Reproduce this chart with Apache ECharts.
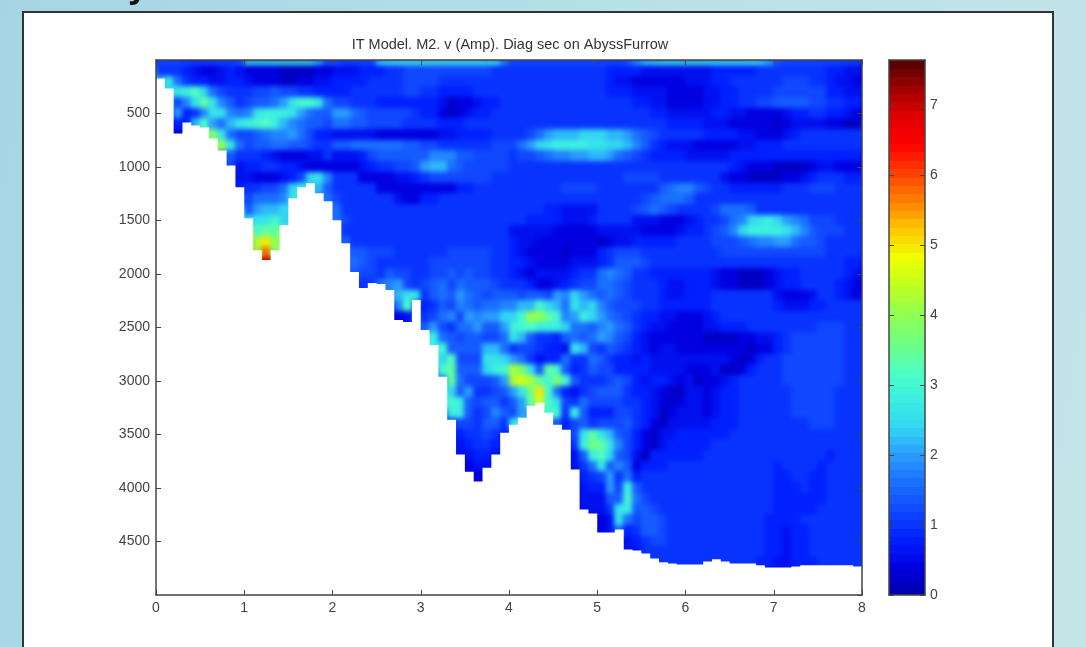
<!DOCTYPE html>
<html><head><meta charset="utf-8">
<style>html,body{margin:0;padding:0;width:1086px;height:647px;overflow:hidden;background:linear-gradient(100deg,#a5d5e4 0%,#b6e0e8 50%,#c4e5e8 100%)}
#panel{position:absolute;left:22px;top:11px;width:1028px;height:700px;background:#fff;border:2px solid #333}
#c{position:absolute;left:0;top:0;width:1086px;height:647px}
#c canvas[data-zr-dom-id="zr_0"]{filter:blur(2.4px);clip-path:inset(60px 224px 52px 156px)}</style>
<script src="https://cdn.jsdelivr.net/npm/echarts@6/dist/echarts.min.js"></script>
</head><body><div id="panel"></div><div id="c"></div>
<script>
const titleText = 'IT Model. M2. v (Amp). Diag sec on AbyssFurrow';
const xTickStep = 1, depthTickStep = 500, ampTickStep = 1;
const ampMax = 7.64;
// distance along the section, one column every 0.1
const columnWidth = 0.1;
// row depth edges: first thin surface row, then 100 m rows
const firstRowBottom = 50, rowHeight = 100;
// seabed depth (m) for each of the 80 columns
const seabedDepth = [173,267,686,584,612,630,733,845,985,1190,
 1479,1777,1870,1777,1544,1292,1190,1152,1246,1320,
 1497,1712,1982,2131,2085,2094,2150,2430,2448,2243,
 2523,2663,2961,3362,3688,3847,3940,3810,3688,3483,
 3409,3343,3232,3204,3297,3409,3455,3828,4201,4238,
 4415,4415,4387,4574,4583,4611,4658,4695,4705,4714,
 4714,4714,4686,4667,4686,4705,4705,4705,4723,4742,
 4742,4742,4733,4723,4723,4723,4723,4723,4723,4733];
// amplitude readings, one string per depth row; each character is base-36 in steps of 0.2
const ampStep = 0.2;
const ampRows = [
"6666666667 eeeeeeeeb7 76666deeee eeeeeeeee9 6666666666 6667acdeee eeeeeeeedb 7666666666",
"5554322343 2222111122 3334445566 6666666655 5555555555 5444433333 3334444455 5555554433",
"bd85443344 3222112233 4444555566 6655555555 5555555555 5433222222 3334455555 5666554332",
".cdegc8655 5667665544 4455555566 5544445555 5555555555 5444333322 2233445555 6666664433",
"..69dhd975 6778adffd8 6655544444 4431223445 5555555555 5555443322 2233445566 7777665544",
"..a459dd98 9deeeda877 aa87666665 4421234455 5555555555 5555554433 3334433222 2344554432",
"..44bga8bd efgeb98776 8877666655 5544455555 5555555555 5555555544 4433322222 1233332211",
"..2...jd86 67899a8644 3333322222 2233444455 5568abbbcc cbba876555 5544443322 2345555555",
".......kd8 6778877655 7788888877 6655555566 68acdeeeed dccb975433 3222223344 4555555555",
"........75 5543222335 3334677777 7999776666 5667899aab ba87654444 3333344444 4444444444",
"........63 4455443222 2223455667 abb8766666 5555555555 5555555555 5555543222 1111233222",
".........3 3222346cd9 5552222334 5666666655 5555555555 5556666555 5555322111 1223455544",
".........4 55668ce.b7 5555522222 2222445555 5555556666 5555555789 9765544444 4555666555",
".......... 68889d...8 6555555322 4455555555 5555555555 5555567888 7555555555 5555555555",
".......... 7abbc..... 8555555555 5555555555 5555443333 5555678765 5556888755 5555555555",
".......... cddfc..... 8655555555 5555555555 5544443334 5555333222 3455689cde ca98666555",
".......... .fhh...... .555555555 5555555555 3333322222 3333322223 445679ceee edb9766655",
".......... .lpk...... .755555555 5555555555 4332222222 1233444445 5556667899 aa87765555",
".......... .ktj...... ..77666555 5556666655 4322221222 4566655555 5555666666 6666665555",
".......... ..z....... ..87655555 5666666655 4432222333 4577765555 5555555555 5555555544",
".......... .......... ..76657665 5667676655 4323333455 8987554444 4443221112 3445555543",
".......... .......... ...5589a65 6786877765 5542234566 8876555433 4443221112 3445555432",
".......... .......... .......bdd 5787a87677 76776a9ca8 7876555433 4445555555 3222355432",
".......... .......... .......9g. 4576987889 9bbfcb8dbc 9766655444 4445555555 4333445555",
".......... .......... .......23. 56896a9aac cfkkhf9aec a876544332 2234555555 5555555555",
".......... .......... .......... 7a6588a77a efgeeec887 9a87543322 2233444555 5555566655",
".......... .......... .......... .e87677668 db75547878 a976432222 2211112233 4566666655",
".......... .......... .......... .ef7777bb8 5665443db6 5765432332 2222222122 4566666655",
".......... .......... .......... ..cg666ddc a853448558 7544343333 3333321245 5666666655",
".......... .......... .......... ..fh777cef ljd7hf7457 6644443333 2223112455 5666666655",
".......... .......... .......... ..9h86667a lnlhfjf755 5676434432 3122345555 5666666655",
".......... .......... .......... ...c7a5567 adipf84356 7775443211 3323445555 5566666555",
".......... .......... .......... ...fe76775 7ahnfd6586 6665543212 3323445555 5566666555",
".......... .......... .......... ...ee75697 6a..ff5e74 4466543123 3323445555 5566666555",
".......... .......... .......... ...5665775 d....74675 6667542133 3334445555 5555666555",
".......... .......... .......... ....455654 .......6dh db76421334 4444455555 5555555555",
".......... .......... .......... ....34554. .......5ei hd96421344 4445555555 5555555555",
".......... .......... .......... ....33443. .......37e gc76314444 4455555555 5555554555",
".......... .......... .......... .....233.. .......358 d797244455 5555555555 4555545555",
".......... .......... .......... ......2... ........45 6a58455555 5555555555 4455445555",
".......... .......... .......... .......... ........34 4a6e755555 5555555555 4445445555",
".......... .......... .......... .......... ........33 377f865555 5555555555 4444445555",
".......... .......... .......... .......... ........33 35de776555 5555555555 4444455555",
".......... .......... .......... .......... .......... 23d8677655 5555555554 4445555555",
".......... .......... .......... .......... .......... 2384577655 5555555554 4344555555",
".......... .......... .......... .......... .......... ...3456655 5555555554 4344555555",
".......... .......... .......... .......... .......... ...3355555 5555555554 4344555555",
".......... .......... .......... .......... .......... .......555 5555555544 3344455555"
];
// colour ramp, stops evenly spaced from 0 to ampMax
const rampColors = ['#0000a8','#0000e0','#0020ff','#1048ff','#1a70ff','#2a9cff','#33d8f0','#3cf0e0','#50ffc0','#70ff80','#90ff50','#c0ff20','#f0ff00','#ffc800','#ff8000','#ff4000','#ff0000','#e00000','#a00000','#500000'];
const colorbarLevels = 64;

const cells = [];
ampRows.forEach((row, r) => {
  const chars = row.replace(/ /g, '');
  const top = r === 0 ? 0 : firstRowBottom + (r - 1) * rowHeight;
  const bottom = firstRowBottom + r * rowHeight;
  for (let c = 0; c < chars.length; c++) {
    if (chars[c] === '.') continue;
    cells.push([c * columnWidth, (c + 1) * columnWidth, top, bottom, parseInt(chars[c], 36) * ampStep]);
  }
});
const barCells = [];
for (let i = 0; i < colorbarLevels; i++) {
  const lo = ampMax * i / colorbarLevels, hi = ampMax * (i + 1) / colorbarLevels;
  barCells.push([0, 1, lo, hi, (lo + hi) / 2]);
}
function cellRect(api, grow) {
  const a = api.coord([api.value(0), api.value(2)]);
  const b = api.coord([api.value(1), api.value(3)]);
  const x0 = Math.floor(Math.min(a[0], b[0])) - grow, x1 = Math.ceil(Math.max(a[0], b[0])) + grow;
  const y0 = Math.floor(Math.min(a[1], b[1])) - grow, y1 = Math.ceil(Math.max(a[1], b[1])) + grow;
  return {x: x0, y: y0, width: x1 - x0, height: y1 - y0};
}
function drawCell(params, api) {
  return {type: 'rect', shape: cellRect(api, 0), style: {fill: api.visual('color')}};
}
// same colours, slightly larger, under the cells: keeps the soft map from fading at its edges
function drawUnderlay(params, api) {
  return {type: 'rect', shape: cellRect(api, 9), style: {fill: api.visual('color')}};
}
// white below the seabed staircase
function drawSeabed(params, api) {
  const pts = [];
  seabedDepth.forEach((d, c) => {
    pts.push(api.coord([c * columnWidth, d]));
    pts.push(api.coord([(c + 1) * columnWidth, d]));
  });
  pts.push(api.coord([8, 5000]));
  pts.push(api.coord([0, 5000]));
  return {type: 'polygon', shape: {points: pts}, style: {fill: '#fff'}};
}
const INK = '#444';
const FONT = 'Liberation Sans';
const lab = {color: INK, fontFamily: FONT, fontSize: 14, formatter: v => String(v)};
const line = {show: true, onZero: false, lineStyle: {color: INK, width: 1.5}};
const tick = {show: true, inside: true, length: 5, lineStyle: {color: INK, width: 1}};
const chart = echarts.init(document.getElementById('c'), null, {renderer: 'canvas'});
const TOP = 1;
chart.setOption({
  animation: false,
  backgroundColor: 'transparent',
  title: {zlevel: TOP, text: titleText, left: 505, top: 32, textAlign: 'center', textStyle: {color: '#333', fontFamily: FONT, fontSize: 14.5, fontWeight: 'normal'}},
  graphic: [
    {type: 'text', zlevel: TOP, x: 128, y: -31, style: {text: 'y', fill: '#111', font: 'bold 36px Liberation Sans'}}
  ],
  grid: [{left: 156, top: 60, width: 706, height: 535}, {left: 889, top: 60, width: 36, height: 535}],
  xAxis: [
    {type: 'value', zlevel: TOP, gridIndex: 0, min: 0, max: 8, interval: xTickStep, position: 'bottom', axisLine: line, axisTick: tick, splitLine: {show: false}, axisLabel: {...lab, margin: 6}},
    {type: 'value', zlevel: TOP, gridIndex: 0, min: 0, max: 8, interval: xTickStep, position: 'top', axisLine: line, axisTick: tick, splitLine: {show: false}, axisLabel: {show: false}},
    {type: 'value', zlevel: TOP, gridIndex: 1, min: 0, max: 1, position: 'bottom', axisLine: line, axisTick: {show: false}, splitLine: {show: false}, axisLabel: {show: false}},
    {type: 'value', zlevel: TOP, gridIndex: 1, min: 0, max: 1, position: 'top', axisLine: line, axisTick: {show: false}, splitLine: {show: false}, axisLabel: {show: false}}
  ],
  yAxis: [
    {type: 'value', zlevel: TOP, gridIndex: 0, inverse: true, min: 0, max: 5000, interval: depthTickStep, position: 'left', axisLine: line, axisTick: tick, splitLine: {show: false}, axisLabel: {...lab, margin: 6, showMinLabel: false, showMaxLabel: false}},
    {type: 'value', zlevel: TOP, gridIndex: 0, inverse: true, min: 0, max: 5000, interval: depthTickStep, position: 'right', axisLine: line, axisTick: tick, splitLine: {show: false}, axisLabel: {show: false}},
    {type: 'value', zlevel: TOP, gridIndex: 1, min: 0, max: ampMax, interval: ampTickStep, position: 'right', axisLine: line, axisTick: tick, splitLine: {show: false}, axisLabel: {...lab, margin: 5, showMaxLabel: false}},
    {type: 'value', zlevel: TOP, gridIndex: 1, min: 0, max: ampMax, interval: ampTickStep, position: 'left', axisLine: line, axisTick: tick, splitLine: {show: false}, axisLabel: {show: false}}
  ],
  visualMap: {type: 'continuous', show: false, min: 0, max: ampMax, dimension: 4, seriesIndex: [0, 1, 3], inRange: {color: rampColors}},
  series: [
    {type: 'custom', z: 1, xAxisIndex: 0, yAxisIndex: 0, renderItem: drawUnderlay, data: cells, encode: {x: [0, 1], y: [2, 3]}, silent: true, clip: false},
    {type: 'custom', z: 2, xAxisIndex: 0, yAxisIndex: 0, renderItem: drawCell, data: cells, encode: {x: [0, 1], y: [2, 3]}, silent: true, clip: false},
    {type: 'custom', zlevel: TOP, z: -1, xAxisIndex: 0, yAxisIndex: 0, renderItem: drawSeabed, data: [[0, 0]], silent: true, clip: true},
    {type: 'custom', zlevel: TOP, z: -1, xAxisIndex: 2, yAxisIndex: 2, renderItem: drawCell, data: barCells, encode: {x: [0, 1], y: [2, 3]}, silent: true, clip: true}
  ]
});
</script></body></html>
